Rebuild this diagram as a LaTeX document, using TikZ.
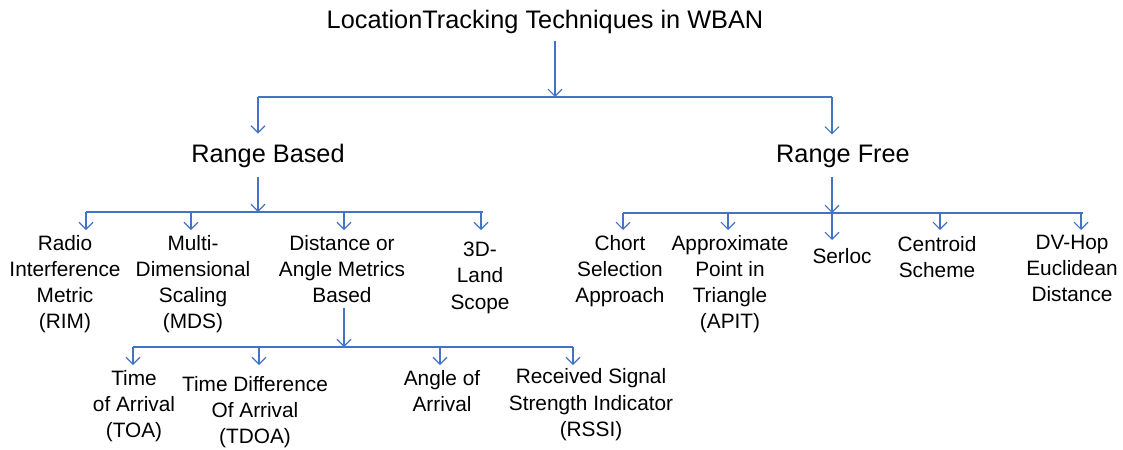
\documentclass[tikz,border=0pt]{standalone}
\usepackage{fontspec}
\setmainfont{Liberation Sans}
\usetikzlibrary{arrows.meta}
\definecolor{linkblue}{RGB}{68,114,196}
\tikzset{
  link/.style={draw=linkblue, line width=0.8pt},
  down/.style={link, -{Straight Barb[length=5pt,width=10pt]}},
  head/.style={font=\fontsize{18}{22}\selectfont, inner xsep=0pt, inner ysep=5pt},
  group/.style={font=\fontsize{18}{22}\selectfont, inner xsep=0pt, inner ysep=7pt},
  leaf/.style={align=center, font=\fontsize{14.8}{18.6}\selectfont, inner xsep=0pt, inner ysep=3.5pt, anchor=north},
}
\begin{document}
\begin{tikzpicture}[x=0.025cm, y=-0.025cm]
  \useasboundingbox (0,0) rectangle (1123,449);

  % root
  \node[head, anchor=base] (title) at (545,28) {LocationTracking Techniques in WBAN};
  \coordinate (top) at (555,97);
  \coordinate (topL) at (258,97);
  \coordinate (topR) at (832,97);
  \draw[down] (top |- title.south) -- (top);
  \draw[link] (topL) -- (topR);

  % two groups
  \node[group, anchor=base] (rb) at (268,162) {Range Based};
  \node[group, anchor=base] (rf) at (843,162) {Range Free};
  \draw[down] (topL) -- (topL |- rb.north);
  \draw[down] (topR) -- (topR |- rf.north);

  % range based children
  \coordinate (rbJ) at (258,212);
  \coordinate (rbL) at (86,212);
  \coordinate (rbR) at (483,212);
  \draw[down] (rb.south -| rbJ) -- (rbJ);
  \draw[link] (rbL) -- (rbR);
  \node[leaf] (rim) at (65,230) {Radio\\Interference\\Metric\\(RIM)};
  \node[leaf] (mds) at (193,230) {Multi-\\Dimensional\\Scaling\\(MDS)};
  \node[leaf] (dist) at (342,230) {Distance or\\Angle Metrics\\Based};
  \node[leaf, inner ysep=8.5pt] (land) at (480,230) {3D-\\Land\\Scope};
  \coordinate (dRim) at (86,212);
  \coordinate (dMds) at (191,212);
  \coordinate (dDist) at (344,212);
  \coordinate (dLand) at (481,212);
  \draw[down] (dRim) -- (dRim |- rim.north);
  \draw[down] (dMds) -- (dMds |- mds.north);
  \draw[down] (dDist) -- (dDist |- dist.north);
  \draw[down] (dLand) -- (dLand |- land.north);

  % range free children
  \coordinate (rfJ) at (832,213);
  \coordinate (rfL) at (623,213);
  \coordinate (rfR) at (1083,213);
  \draw[down] (rf.south -| rfJ) -- (rfJ);
  \draw[link] (rfL) -- (rfR);
  \node[leaf] (chort) at (620,230) {Chort\\Selection\\Approach};
  \node[leaf] (apit) at (730,230) {Approximate\\Point in\\Triangle\\(APIT)};
  \node[leaf, inner ysep=5.7pt] (serloc) at (842,240) {Serloc};
  \node[leaf, inner ysep=4.5pt] (centroid) at (937,230) {Centroid\\Scheme};
  \node[leaf] (dvhop) at (1072,230) {DV-Hop\\Euclidean\\Distance};
  \coordinate (dChort) at (623,213);
  \coordinate (dApit) at (728,213);
  \coordinate (dSerloc) at (832,213);
  \coordinate (dCentroid) at (940,213);
  \coordinate (dDvhop) at (1081,213);
  \draw[down] (dChort) -- (dChort |- chort.north);
  \draw[down] (dApit) -- (dApit |- apit.north);
  \draw[down] (dSerloc) -- (dSerloc |- serloc.north);
  \draw[down] (dCentroid) -- (dCentroid |- centroid.north);
  \draw[down] (dDvhop) -- (dDvhop |- dvhop.north);

  % distance / angle children
  \coordinate (dsJ) at (344,347);
  \coordinate (dsL) at (133,347);
  \coordinate (dsR) at (573,347);
  \draw[down] (dist.south -| dsJ) -- (dsJ);
  \draw[link] (dsL) -- (dsR);
  \node[leaf] (toa) at (134,365) {Time\\of Arrival\\(TOA)};
  \node[leaf, inner ysep=8pt] (tdoa) at (255,365) {Time Difference\\Of Arrival\\(TDOA)};
  \node[leaf] (aoa) at (442,365) {Angle of\\Arrival};
  \node[leaf, inner ysep=2.5pt] (rssi) at (591,365) {Received Signal\\Strength Indicator\\(RSSI)};
  \coordinate (dToa) at (133,347);
  \coordinate (dTdoa) at (259,347);
  \coordinate (dAoa) at (440,347);
  \coordinate (dRssi) at (573,347);
  \draw[down] (dToa) -- (dToa |- toa.north);
  \draw[down] (dTdoa) -- (dTdoa |- tdoa.north);
  \draw[down] (dAoa) -- (dAoa |- aoa.north);
  \draw[down] (dRssi) -- (dRssi |- rssi.north);
\end{tikzpicture}
\end{document}
